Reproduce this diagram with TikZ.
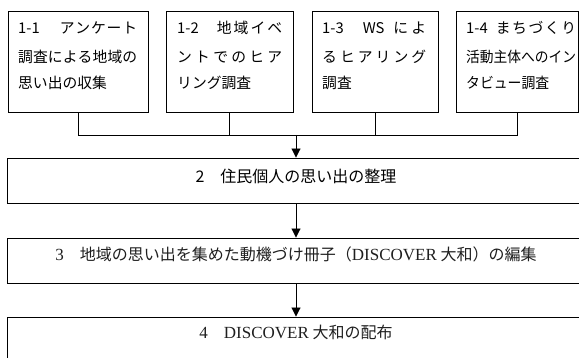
\documentclass[tikz,border=0pt]{standalone}
\usepackage{fontspec}
\setmainfont{Noto Sans CJK JP}
\newfontfamily\latserif{Liberation Serif}
\usetikzlibrary{arrows.meta}
\newcommand\spr[2]{\makebox[#1][s]{#2}}
\newcommand\hsq[2]{\resizebox{#1}{\height}{#2}}
\newcommand\ser[1]{{\fontsize{17}{19}\latserif #1}}
\begin{document}
\begin{tikzpicture}[x=1pt,y=-1pt,
  box/.style={draw,line width=0.9pt,inner sep=0pt,minimum height=101pt},
  wide/.style={draw,line width=0.9pt,inner sep=0pt,minimum width=578pt},
  ln/.style={line width=0.9pt},
  arr/.style={line width=0.9pt,-{Triangle[width=9pt,length=9pt]}},
  tl/.style={anchor=base west,inner sep=0pt,font=\fontsize{14.8}{18}\selectfont},
  cl/.style={anchor=base,inner sep=0pt,font=\fontsize{16}{19}\selectfont}]
\useasboundingbox (0,0) rectangle (579,358);
% top boxes
\node[box,minimum width=140pt] (b1) at (78,61.5) {};
\node[box,minimum width=127pt] (b2) at (229.5,61.5) {};
\node[box,minimum width=126pt] (b3) at (375,61.5) {};
\node[box,minimum width=122pt] (b4) at (517,61.5) {};
% lower boxes
\node[wide,minimum height=45pt] (r2) at (296,180.5) {};
\node[wide,minimum height=45pt] (r3) at (296,260.5) {};
\node[wide,minimum height=53pt] (r4) at (296,343.5) {};
% box 1 text
\node[tl] (t1a) at (18,34) {\spr{119pt}{1-1\hspace{20pt}ア\hfill ン\hfill ケ\hfill ー\hfill ト}};
\node[tl] (t1b) at (18,62.5) {\spr{119pt}{調\hfill 査\hfill に\hfill よ\hfill る\hfill 地\hfill 域\hfill の}};
\node[tl] (t1c) at (18,88.5) {思い出の収集};
% box 2 text
\node[tl] (t2a) at (177,34) {\spr{105pt}{1-2\hspace{18pt}地\hfill 域\hfill イ\hfill ベ}};
\node[tl] (t2b) at (177,62.5) {\spr{105pt}{ン\hfill ト\hfill で\hfill の\hfill ヒ\hfill ア}};
\node[tl] (t2c) at (177,88.5) {リング調査};
% box 3 text
\node[tl] (t3a) at (322,34) {\spr{104pt}{1-3\hspace{19pt}WS\hspace{9pt}に\hfill よ}};
\node[tl] (t3b) at (322,62.5) {\spr{104pt}{る\hfill ヒ\hfill ア\hfill リ\hfill ン\hfill グ}};
\node[tl] (t3c) at (322,88.5) {調査};
% box 4 text
\node[tl] (t4a) at (466,34) {\spr{110pt}{1-4\hspace{8pt}ま\hfill ち\hfill づ\hfill く\hfill り}};
\node[tl] (t4b) at (466,62.5) {\hsq{110pt}{活動主体へのイン}};
\node[tl] (t4c) at (466,88.5) {\hsq{83pt}{タビュー調査}};
% lower texts
\node[cl] (s2) at (296,182.5) {2　住民個人の思い出の整理};
\node[cl,text=black!88] (s3) at (296,261) {\ser{3}　地域の思い出を集めた動機づけ冊子（\ser{DISCOVER} 大和）の編集};
\node[cl,text=black!88] (s4) at (296,339) {\ser{4}　\ser{DISCOVER} 大和の配布};
% connectors
\coordinate (j) at (296,135);
\draw[ln] (b1.south) -- (b1.south |- j) -- (b4.south |- j) -- (b4.south);
\draw[ln] (b2.south) -- (b2.south |- j);
\draw[ln] (b3.south) -- (b3.south |- j);
\draw[arr] (j) -- (r2.north);
\draw[arr] (r2.south) -- (r3.north);
\draw[arr] (r3.south) -- (r4.north);
\end{tikzpicture}
\end{document}
